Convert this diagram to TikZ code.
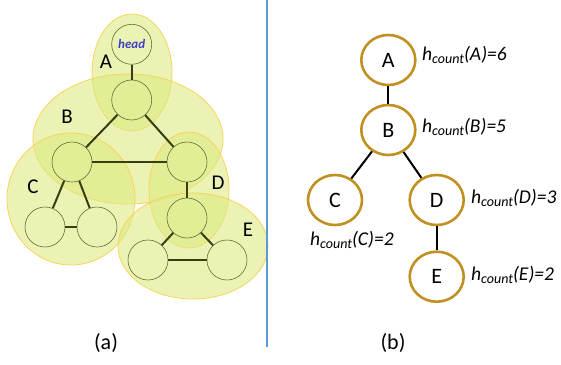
\documentclass[tikz,border=0pt]{standalone}
\usepackage{fontspec}
\setmainfont{Carlito}
\usetikzlibrary{shapes.geometric}
\definecolor{grpfill}{RGB}{222,234,130}
\definecolor{grpdraw}{RGB}{245,212,90}
\definecolor{vdraw}{RGB}{100,108,50}
\definecolor{edgec}{RGB}{55,62,20}
\definecolor{headc}{RGB}{64,64,200}
\definecolor{treec}{RGB}{192,144,32}
\definecolor{sepc}{RGB}{91,155,213}
\tikzset{
  grp/.style={fill=grpfill, fill opacity=0.6, draw=grpdraw, line width=0.8pt},
  vert/.style={circle, draw=vdraw, line width=0.6pt, minimum size=40pt, inner sep=0pt},
  gedge/.style={draw=edgec, line width=2pt},
  glabel/.style={font=\fontsize{21}{23}\selectfont, inner sep=0pt},
  tnode/.style={ellipse, draw=treec, line width=2.6pt, minimum width=54pt, minimum height=50pt, inner sep=0pt, font=\fontsize{22}{24}\selectfont},
  tedge/.style={draw=black, line width=2pt},
  hlabel/.style={font=\fontsize{19.5}{21}\selectfont\itshape, inner sep=0pt, anchor=west},
  caption/.style={font=\fontsize{22}{24}\selectfont, inner sep=0pt}
}
\newcommand{\hc}[1]{h\raisebox{-0.35ex}{\fontsize{14}{15}\selectfont count}(#1)}
\begin{document}
\begin{tikzpicture}[x=1pt,y=-1pt]
\useasboundingbox (0,0) rectangle (561,364);
% group ellipses
\draw[grp] (132,72.5) ellipse [x radius=40pt, y radius=58.5pt];
\draw[grp] (128,139) ellipse [x radius=95pt, y radius=65pt];
\draw[grp] (71,199) ellipse [x radius=64pt, y radius=66pt];
\draw[grp] (189,190) ellipse [x radius=40pt, y radius=58pt];
\draw[grp] (193,246) ellipse [x radius=75pt, y radius=53pt];
% vertices
\node[vert] (h) at (131.7,44.3) {\fontsize{13}{14}\selectfont\bfseries\itshape\color{headc}head};
\node[vert] (b) at (131.7,100) {};
\node[vert] (c) at (72,162) {};
\node[vert] (d) at (187,162) {};
\node[vert] (c1) at (45,227) {};
\node[vert] (c2) at (97,227) {};
\node[vert] (e) at (187,218) {};
\node[vert] (e1) at (148,260) {};
\node[vert] (e2) at (227,260) {};
% edges
\draw[gedge] (h) -- (b);
\draw[gedge] (b) -- (c);
\draw[gedge] (b) -- (d);
\draw[gedge] (c) -- (d);
\draw[gedge] (c) -- (c1);
\draw[gedge] (c) -- (c2);
\draw[gedge] (c1) -- (c2);
\draw[gedge] (d) -- (e);
\draw[gedge] (e) -- (e1);
\draw[gedge] (e) -- (e2);
\draw[gedge] (e1) -- (e2);
% group labels
\node[glabel] (la) at (106,62) {A};
\node[glabel] (lb) at (67,117) {B};
\node[glabel] (lc) at (33,187) {C};
\node[glabel] (ld) at (218,183) {D};
\node[glabel] (le) at (248,230) {E};
% separator
\coordinate (s1) at (267,0);
\coordinate (s2) at (267,347);
\draw[draw=sepc, line width=2pt] (s1) -- (s2);
% tree
\node[tnode] (A) at (388.3,60) {A};
\node[tnode] (B) at (388.3,130) {B};
\node[tnode] (C) at (335,200) {C};
\node[tnode] (D) at (436.7,200) {D};
\node[tnode] (E) at (436.7,276.7) {E};
\draw[tedge] (A) -- (B);
\draw[tedge] (B) -- (C);
\draw[tedge] (B) -- (D);
\draw[tedge] (D) -- (E);
\node[hlabel] (hA) at (422,55) {\hc{A}=6};
\node[hlabel] (hB) at (422,127) {\hc{B}=5};
\node[hlabel] (hD) at (471,198) {\hc{D}=3};
\node[hlabel] (hC) at (310,240) {\hc{C}=2};
\node[hlabel] (hE) at (471,275) {\hc{E}=2};
% captions
\node[caption] (ca) at (106,343) {(a)};
\node[caption] (cb) at (393,343) {(b)};
\end{tikzpicture}
\end{document}
